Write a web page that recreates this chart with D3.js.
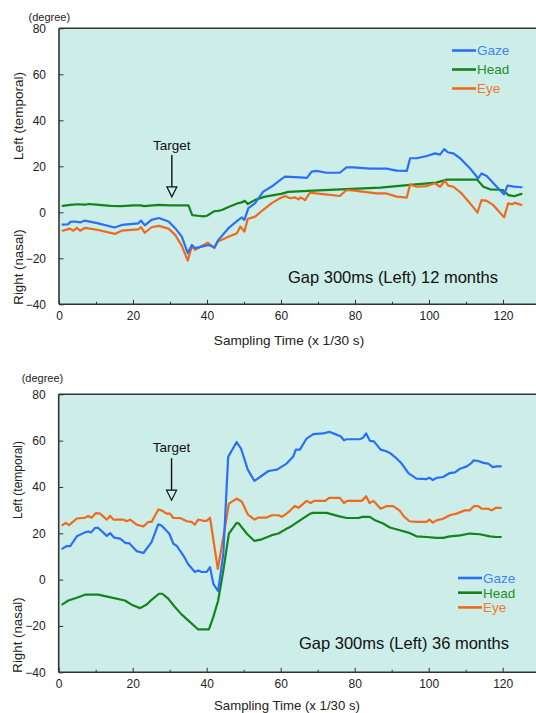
<!DOCTYPE html>
<html><head><meta charset="utf-8">
<script src="https://cdn.jsdelivr.net/npm/d3@7"></script>
<style>
html,body{margin:0;padding:0;background:#fff;}
svg{display:block;font-family:"Liberation Sans",Arial,sans-serif;}
</style></head>
<body>
<svg id="c" width="536" height="713"></svg>
<script>
// ---------- data ----------
const seriesNames = ["Gaze", "Head", "Eye"];
const xTicksMajor = [0, 20, 40, 60, 80, 100, 120];
const xTicksMinor = [10, 30, 50, 70, 90, 110, 130];
const yTicks = [-40, -20, 0, 20, 40, 60, 80];
const targetTime = 30.5;

// Chart 1: Gap 300ms (Left) 12 months  [time (1/30 s), degree]
const gaze12 = [[1,-5.4],[2.5,-5.2],[3,-4.2],[4.3,-4],[5.7,-4.4],[7,-3.6],[10.6,-4.8],[15,-6.6],[17,-5.5],[21.4,-4.8],[22.2,-3.6],[23.2,-5.7],[25,-3.3],[27,-2.5],[29.6,-4],[31.4,-6.9],[33.2,-10.6],[34.8,-17.8],[35.9,-14.2],[36.8,-15.6],[38.6,-14.9],[40.4,-14.2],[42,-15.2],[43.1,-12],[45.8,-6.9],[48.5,-3.3],[49.4,-2.2],[50.1,-3.3],[51.2,1.8],[53,4],[55.2,9],[57.5,11.2],[60,14.3],[61.1,15.5],[65.1,15.2],[67,15],[68.3,17.7],[69.6,18],[72.3,17.2],[75.9,17.2],[77.7,19.5],[79.6,19.5],[84,19],[88.5,19],[91.3,18.1],[94,18],[94.9,23.5],[96.7,23.5],[99.4,24.5],[101.6,25.6],[103,25.1],[104.1,27.5],[105.2,26],[106.6,25.6],[108.4,23.5],[111.1,19.1],[113.3,14.7],[114.2,16.9],[115.6,15.8],[118.3,11.1],[120.3,7.8],[121.2,11.6],[123,11.2],[125,10.9]];
const head12 = [[1,2.8],[3,3.2],[5,3.5],[7,3.3],[8,3.6],[10,3.3],[14,2.8],[17,2.7],[20,3],[22,3],[23,2.7],[27,3.2],[30,3],[35,3],[36,-1.2],[37.5,-1.5],[39,-1.8],[40,-1.5],[42,0.5],[43,0.6],[44,1],[46,2.4],[48.5,4],[49.4,4.3],[50.2,5],[51,3.6],[53,5.4],[55.7,6.8],[60,8],[62,8.9],[68.7,9.4],[77.7,10.1],[86.8,10.7],[94.9,11.9],[102,12.9],[104.8,14.2],[113,14.2],[114.7,11.1],[116.5,10],[118.5,9.8],[120,9.7],[121.4,7.5],[123,7],[125,8]];
const eye12 = [[1,-8],[2.9,-7.1],[3.9,-8],[4.8,-6.8],[5.7,-8],[7,-6.8],[10.6,-7.7],[15.1,-9.4],[16.9,-8],[21.4,-7.4],[22.2,-6.5],[23.2,-8.9],[25,-6.5],[27,-5.9],[29.6,-7.1],[31.4,-9.8],[33.2,-14.6],[34.8,-21],[35.9,-14.9],[36.8,-16.3],[38.6,-14.6],[40.2,-13.2],[42,-15.6],[42.9,-12.7],[45.8,-10.6],[48.1,-9.1],[49,-6.2],[50.1,-8.4],[51,-2.9],[53,-1.9],[55.2,1.1],[57.5,4],[59.7,6.1],[61.1,7.1],[62.4,6.1],[63.8,6.5],[64.7,5.6],[65.3,6.5],[66.5,5.3],[67.8,8.5],[71.4,7.9],[75.9,7.1],[77.7,9.7],[80.4,9.3],[85.8,8.2],[88.5,8.2],[91.3,6.8],[94,6.4],[94.9,12.1],[96.7,11.1],[99.4,11.4],[101.6,12.6],[103,11.1],[104.3,13.7],[105.2,11.6],[106.6,11.1],[108.8,8.2],[111.1,3.9],[113.1,-0.1],[114.2,5.3],[115.6,5],[117.4,3.1],[120.3,-2.2],[121.4,3.9],[122.5,3.5],[123.3,4.1],[125,3.2]];

// Chart 2: Gap 300ms (Left) 36 months
const gaze36 = [[1,13.4],[2.2,14.5],[3.1,14.5],[4.9,18.7],[7.1,20.4],[8,20.8],[8.7,20.3],[9.8,22.3],[10.7,22.3],[13,18.9],[13.9,20.1],[15,18.1],[16.6,17.7],[18.1,15.8],[19,15.8],[21.1,12.3],[22.9,11.5],[25.1,16.2],[26.9,23.9],[27.8,23.4],[29.9,19.8],[31,15.5],[31.9,14.6],[33.7,10.4],[35,6.6],[36.8,3.3],[37.7,4],[38.6,3.3],[40,3.3],[40.9,5.4],[41.8,-1.8],[43.1,-5],[44.5,11.2],[45.8,53],[48.1,59.4],[49.3,56.5],[51.1,47.5],[52.9,42.6],[54.4,44.3],[56.7,46.9],[59,47.5],[61.6,50.1],[63.4,53.2],[64.1,56.1],[65.2,56.1],[67,60.9],[68.8,62.8],[71.5,63.1],[73.1,63.8],[74.7,62.8],[76.2,61.9],[77.1,60.2],[77.8,60.6],[81.4,60.6],[82.3,61.3],[83.1,63.1],[84.1,59.9],[85.2,59.7],[87,56.1],[88.4,55.5],[89.5,54.7],[90.9,52.9],[92.7,50.1],[94.5,46],[96.7,43.6],[99.4,43.4],[100.2,44],[101.1,43],[102.1,43.9],[103.9,44.3],[105.7,46],[107.1,46.3],[108.5,47.9],[110.3,48.9],[111.6,50.4],[112.1,51.5],[113.4,51.2],[114.8,50.4],[116.1,50.1],[117.3,48.6],[118.4,48.9],[119.5,48.9]];
const head36 = [[1,-10.7],[2.6,-9],[4.9,-7.8],[7.1,-6.5],[10.7,-6.5],[12.5,-7.1],[17.9,-9],[19.7,-10.8],[22,-12.3],[23.8,-10.7],[25.1,-8.7],[27.1,-6.1],[28,-6.1],[29.6,-8.2],[31.4,-11.8],[33.2,-15],[35,-17.6],[37.7,-21.5],[40.6,-21.5],[41.8,-16.1],[43.1,-9],[44.5,4],[46,19.9],[48.1,24.5],[48.7,24.2],[50.8,19.9],[52.9,16.7],[54.9,17.4],[57.6,19.2],[59.4,19.9],[61.2,21.6],[62.5,22.7],[65.2,25.6],[68,28.5],[68.8,28.8],[72.4,28.8],[75.6,27.4],[77.8,26.6],[81,26.6],[82.1,27.1],[84.1,27.1],[85.5,25.6],[87.7,24.2],[89.5,22.5],[92.2,21.3],[94.5,20.3],[96.7,18.7],[99.4,18.4],[102.1,18],[103.9,18],[105.7,18.7],[108.5,19.1],[111.1,19.9],[113.8,19.6],[116.5,18.7],[118.2,18.4],[119.5,18.4]];
const eye36 = [[1,23.5],[1.9,24.5],[2.8,23.5],[4.9,26.4],[7.1,26.7],[8,27.5],[8.9,26.7],[10,28.7],[11.2,28.5],[13,25.9],[13.9,27.5],[14.8,25.9],[17.5,25.9],[18.4,25.2],[19.3,25.9],[21.1,23.7],[22.9,23],[24.2,24.9],[25.1,24.9],[26.9,30.2],[27.8,29.9],[29.2,28.5],[30.1,28.5],[31,26.6],[32.8,26.6],[34.6,25.2],[35.9,24.9],[36.8,23.7],[37.7,25.9],[39.1,25.4],[40,25.4],[40.9,26.7],[43,4.6],[44.5,18.4],[46,32.8],[48.1,35],[49.5,33.6],[51.1,28.2],[52.9,25.9],[54,26.8],[56.2,26.8],[57.6,27.8],[59.4,27.8],[60.3,27.1],[61.2,28.1],[62.5,29.7],[63.8,31.8],[64.8,31],[67,34],[68.1,33.1],[69,34],[72,34],[73.1,35.3],[76,35.3],[77.1,33.1],[78,34],[81.9,34],[83.1,36],[84,33.1],[85.1,34],[87,30.6],[88.5,31.7],[90.4,31.7],[92.1,29.9],[93.3,27.3],[94.8,25.2],[96.7,24.9],[99.4,24.9],[100.2,25.9],[101.1,24.6],[102.1,25.6],[103.9,26.3],[105.7,27.8],[107.5,28.5],[109.8,29.9],[111.1,29.9],[112.2,31.7],[113.4,31.7],[114.3,30.6],[116.1,30.6],[117,29.9],[118.2,31],[119.5,31]];

// ---------- styles ----------
const lineColors = {Gaze: "#2a70f6", Head: "#12841a", Eye: "#f06a1c"};
const textColors = {Gaze: "#3f86f4", Head: "#1f8f2c", Eye: "#ee7a30"};
const BG = "#ccede8";
const AX = "#333";

const svg = d3.select("#c");

function drawChart(cfg) {
  const g = svg.append("g");
  const x = d3.scaleLinear().domain([0, 130]).range([cfg.left, cfg.left + 3.7 * 130]);
  const y = d3.scaleLinear().domain([-40, 80]).range([cfg.bottom, cfg.top]);

  g.append("rect").attr("x", cfg.left).attr("y", cfg.top)
    .attr("width", 540 - cfg.left).attr("height", cfg.bottom - cfg.top).attr("fill", BG);

  // minor x ticks
  g.append("g").attr("transform", `translate(0,${cfg.bottom})`)
    .call(d3.axisBottom(x).tickValues(xTicksMinor).tickSizeInner(-2.5).tickSizeOuter(0).tickFormat(""))
    .call(a => { a.select(".domain").remove(); a.selectAll("line").attr("stroke", AX).attr("stroke-width", 1); });
  // major x ticks
  g.append("g").attr("transform", `translate(0,${cfg.bottom})`)
    .call(d3.axisBottom(x).tickValues(xTicksMajor).tickSizeInner(-4.5).tickSizeOuter(0).tickPadding(cfg.xPad))
    .call(a => {
      a.select(".domain").remove();
      a.selectAll("line").attr("stroke", AX).attr("stroke-width", 1);
      a.selectAll("text").attr("font-size", 12).attr("fill", "#222").style("font-family", '"Liberation Sans",Arial,sans-serif');
    });
  // y ticks
  g.append("g").attr("transform", `translate(${cfg.left},0)`)
    .call(d3.axisLeft(y).tickValues(yTicks).tickSizeInner(-4.5).tickSizeOuter(0).tickPadding(13))
    .call(a => {
      a.select(".domain").remove();
      a.selectAll("line").attr("stroke", AX).attr("stroke-width", 1);
      a.selectAll("text").attr("font-size", 12).attr("fill", "#222").style("font-family", '"Liberation Sans",Arial,sans-serif');
    });

  // frame
  g.append("line").attr("x1", cfg.left).attr("x2", 540).attr("y1", cfg.top).attr("y2", cfg.top).attr("stroke", AX).attr("stroke-width", 1.6);
  g.append("line").attr("x1", cfg.left).attr("x2", 540).attr("y1", cfg.bottom).attr("y2", cfg.bottom).attr("stroke", AX).attr("stroke-width", 1.6);
  g.append("line").attr("x1", cfg.left).attr("x2", cfg.left).attr("y1", cfg.top).attr("y2", cfg.bottom).attr("stroke", AX).attr("stroke-width", 1.6);

  // series
  const line = d3.line().x(d => x(d[0])).y(d => y(d[1]));
  const order = ["Head", "Eye", "Gaze"];
  order.forEach(n => {
    g.append("path").datum(cfg.data[n]).attr("d", line)
      .attr("fill", "none").attr("stroke", lineColors[n]).attr("stroke-width", 2.2)
      .attr("stroke-linejoin", "round").attr("stroke-linecap", "round");
  });

  // target arrow
  const ax = x(targetTime);
  g.append("text").attr("x", ax).attr("y", y(cfg.target.text)).attr("dy", "0.35em")
    .attr("text-anchor", "middle").attr("font-size", 13.5).attr("fill", "#111").text("Target");
  const y0 = y(cfg.target.from), y1 = y(cfg.target.to);
  g.append("line").attr("x1", ax).attr("x2", ax).attr("y1", y0).attr("y2", y1 - 10)
    .attr("stroke", "#111").attr("stroke-width", 1.4);
  g.append("path").attr("d", `M${ax - 5},${y1 - 10}L${ax + 5},${y1 - 10}L${ax},${y1}Z`)
    .attr("fill", BG).attr("stroke", "#111").attr("stroke-width", 1.2);

  // legend
  seriesNames.forEach((n, i) => {
    const ly = cfg.legend.y + i * cfg.legend.dy;
    g.append("line").attr("x1", cfg.legend.x).attr("x2", cfg.legend.x + 24).attr("y1", ly).attr("y2", ly)
      .attr("stroke", lineColors[n]).attr("stroke-width", 2.6);
    g.append("text").attr("x", cfg.legend.x + 25).attr("y", ly).attr("dy", "0.36em")
      .attr("font-size", 13.5).attr("fill", textColors[n]).text(n);
  });

  // caption
  g.append("text").attr("x", cfg.caption.x).attr("y", cfg.caption.y).attr("dy", "0.36em")
    .attr("font-size", 16.5).attr("fill", "#111").text(cfg.caption.text);

  // labels
  g.append("text").attr("x", cfg.degree.x).attr("y", cfg.degree.y).attr("font-size", 11).attr("fill", "#222").text("(degree)");
  g.append("text").attr("transform", `translate(${cfg.yTitleX},${cfg.leftTitleY}) rotate(-90)`)
    .attr("text-anchor", "middle").attr("dy", "0.35em").attr("font-size", cfg.leftTitleSize).attr("fill", "#222").text("Left (temporal)");
  g.append("text").attr("transform", `translate(${cfg.yTitleX},${cfg.rightTitleY}) rotate(-90)`)
    .attr("text-anchor", "middle").attr("dy", "0.35em").attr("font-size", 13.3).attr("fill", "#222").text("Right (nasal)");
  g.append("text").attr("x", cfg.xTitle.x).attr("y", cfg.xTitle.y).attr("dy", "0.35em")
    .attr("text-anchor", "middle").attr("font-size", cfg.xTitle.size).attr("fill", "#222").text("Sampling Time (x 1/30 s)");
}

drawChart({
  left: 59, top: 28.3, bottom: 304.3, xPad: 7,
  data: {Gaze: gaze12, Head: head12, Eye: eye12},
  target: {text: 29.3, from: 24.9, to: 6.7},
  legend: {x: 452, y: 50.5, dy: 19},
  caption: {x: 288, y: 277, text: "Gap 300ms (Left) 12 months"},
  degree: {x: 28.5, y: 21},
  yTitleX: 18, leftTitleY: 116, rightTitleY: 267, leftTitleSize: 13.5,
  xTitle: {x: 289, y: 340, size: 13.6}
});

drawChart({
  left: 58.7, top: 394.3, bottom: 672.3, xPad: 7.5,
  data: {Gaze: gaze36, Head: head36, Eye: eye36},
  target: {text: 57.1, from: 52.4, to: 34.3},
  legend: {x: 458, y: 578, dy: 14.7},
  caption: {x: 299, y: 643, text: "Gap 300ms (Left) 36 months"},
  degree: {x: 21.7, y: 382},
  yTitleX: 17.5, leftTitleY: 480, rightTitleY: 635, leftTitleSize: 12,
  xTitle: {x: 287, y: 705, size: 13.2}
});
</script>
</body></html>
